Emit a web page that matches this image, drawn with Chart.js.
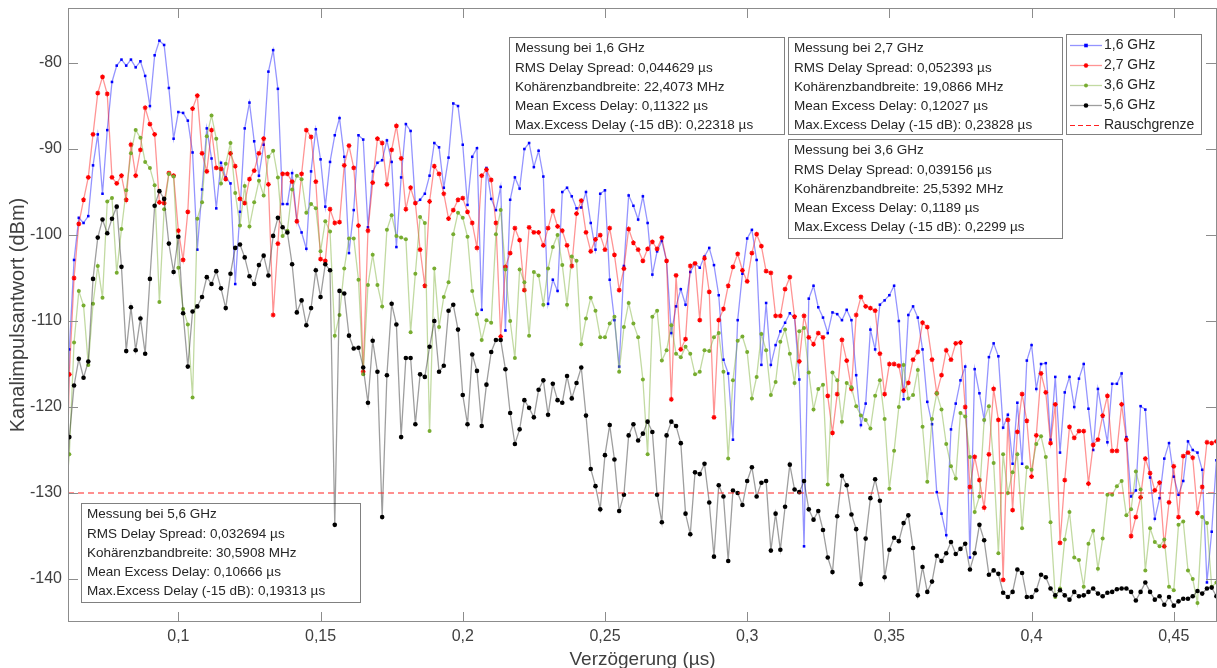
<!DOCTYPE html>
<html lang="de">
<head>
<meta charset="UTF-8">
<title>Kanalimpulsantwort</title>
<style>
  html, body { margin: 0; padding: 0; background: #fff; }
  canvas { display: block; }
</style>
</head>
<body>
<canvas id="impulseChart" width="1217" height="668"></canvas>

<script src="https://cdn.jsdelivr.net/npm/chart.js"></script>
<script>
// sample grid: 600 MHz sampling, first sample is n = 36 (0,06 µs)
const sampleRate = 600;
const firstSample = 36;

// Kanalimpulsantwort in dBm, one value per sample
const blue = [-140,
  -113.3, -102.9, -98.0, -98.6, -97.8, -91.9, -88.3, -95.2, -87.8, -82.2,
  -80.3, -79.6, -80.3, -79.6, -80.5, -79.8, -81.5, -85.0, -79.1, -77.4,
  -77.9, -82.9, -88.8, -85.7, -85.8, -86.7, -90.4, -101.7, -94.7, -87.6,
  -91.1, -96.9, -91.6, -93.3, -94.0, -105.7, -97.3, -87.6, -84.6, -89.1,
  -93.1, -89.5, -81.0, -78.5, -83.0, -96.4, -96.4, -92.8, -98.3, -99.7,
  -101.6, -92.6, -87.7, -91.2, -96.7, -91.5, -88.4, -86.4, -90.9, -102.1,
  -97.1, -88.4, -88.9, -99.1, -92.6, -91.6, -91.3, -89.0, -91.5, -101.4,
  -93.3, -87.1, -87.9, -96.3, -95.9, -95.2, -93.1, -89.3, -89.8, -94.5,
  -91.0, -84.7, -85.0, -89.5, -96.5, -90.9, -89.9, -108.7, -92.2, -95.8,
  -97.1, -94.4, -111.1, -95.9, -93.3, -94.6, -90.0, -89.3, -92.1, -90.2,
  -93.2, -108.0, -105.2, -106.5, -95.0, -94.5, -95.5, -96.9, -96.8, -95.0,
  -98.6, -101.7, -95.2, -94.8, -105.2, -109.9, -115.3, -103.6, -95.4, -96.6,
  -98.2, -95.5, -98.6, -104.6, -101.9, -100.7, -103.0, -111.4, -108.3, -106.3,
  -108.1, -104.3, -103.3, -103.8, -102.5, -101.5, -103.5, -107.0, -114.5, -116.1,
  -123.8, -109.9, -104.5, -100.4, -99.4, -102.9, -115.1, -107.9, -115.1, -112.8,
  -111.2, -110.2, -109.1, -109.6, -116.8, -136.2, -107.4, -105.9, -108.4, -109.6,
  -111.4, -109.0, -109.2, -109.9, -108.7, -109.9, -116.3, -122.1, -119.6, -111.0,
  -113.3, -108.1, -107.6, -107.0, -105.9, -110.0, -119.1, -109.3, -108.3, -109.6,
  -113.3, -119.4, -122.0, -129.9, -132.4, -134.9, -122.6, -119.6, -116.9, -115.3,
  -137.5, -115.6, -118.4, -121.5, -114.2, -112.6, -114.1, -122.4, -120.9, -126.6,
  -119.5, -126.6, -114.6, -112.8, -117.9, -115.0, -114.9, -123.8, -116.5, -125.3,
  -118.3, -116.5, -120.0, -116.7, -115.0, -120.2, -125.0, -117.9, -121.1, -124.1,
  -117.3, -117.3, -116.1, -123.5, -130.4, -129.7, -119.9, -120.3, -128.2, -133.0,
  -130.6, -126.0, -124.2, -128.1, -130.2, -128.6, -124.0, -125.0, -125.3, -127.3,
  -140.4, -134.5, -126.2];

const red = [-140,
  -116.2, -105.0, -98.7, -95.9, -93.3, -88.3, -83.5, -81.6, -83.6, -93.3,
  -94.0, -93.1, -95.9, -89.5, -93.1, -90.1, -85.2, -87.1, -88.3, -96.2,
  -96.3, -92.8, -93.1, -99.5, -102.9, -97.3, -85.3, -83.8, -90.5, -92.6,
  -87.8, -92.2, -92.3, -93.5, -90.5, -92.0, -95.8, -96.3, -93.5, -92.5,
  -90.5, -88.8, -94.1, -109.3, -101.0, -92.9, -92.9, -93.8, -98.4, -92.9,
  -87.8, -88.6, -93.8, -102.8, -103.0, -97.0, -98.6, -98.5, -91.9, -89.6,
  -92.2, -98.9, -115.9, -99.5, -93.9, -88.8, -89.3, -94.1, -90.1, -87.3,
  -91.1, -97.0, -94.5, -96.3, -101.7, -105.9, -96.1, -92.0, -92.9, -95.2,
  -98.1, -97.1, -95.9, -95.7, -97.3, -98.6, -101.5, -93.1, -92.4, -93.6,
  -98.6, -111.8, -103.7, -102.1, -99.2, -100.6, -106.4, -99.1, -99.7, -99.7,
  -101.2, -99.2, -97.2, -99.0, -99.5, -101.2, -103.6, -97.5, -96.0, -99.7,
  -101.9, -100.5, -100.0, -101.7, -99.2, -102.3, -106.4, -103.9, -99.3, -100.9,
  -101.7, -103.0, -101.6, -100.8, -101.6, -100.3, -103.0, -119.1, -104.7, -113.3,
  -112.1, -103.6, -103.3, -109.9, -102.7, -106.6, -121.2, -109.9, -108.6, -105.9,
  -103.7, -102.2, -104.1, -105.4, -102.1, -99.9, -101.3, -104.2, -104.4, -109.4,
  -109.4, -106.3, -104.9, -109.5, -114.7, -109.4, -111.9, -112.7, -111.4, -111.9,
  -118.7, -123.0, -118.5, -112.2, -114.6, -117.9, -109.3, -107.2, -108.3, -108.5,
  -108.8, -113.8, -118.5, -115.0, -115.0, -115.2, -118.1, -117.2, -114.5, -113.6,
  -110.2, -110.7, -114.5, -118.4, -116.3, -113.4, -114.5, -112.6, -112.5, -120.0,
  -129.3, -125.8, -128.5, -131.7, -125.5, -117.9, -121.5, -140.1, -121.5, -132.0,
  -122.9, -118.5, -121.6, -128.1, -123.3, -116.1, -118.3, -124.2, -119.7, -135.8,
  -128.5, -122.3, -123.6, -122.8, -122.8, -128.9, -124.4, -123.8, -121.0, -118.7,
  -125.1, -125.1, -119.7, -123.8, -135.0, -132.8, -130.5, -126.0, -127.7, -129.7,
  -128.8, -136.2, -131.1, -126.9, -132.8, -125.7, -125.3, -125.9, -132.3, -129.3,
  -124.1, -124.2, -124.0];

const green = [-132,
  -125.5, -112.5, -106.5, -108.2, -115.1, -108.0, -103.6, -107.3, -96.1, -95.7,
  -104.4, -99.3, -94.8, -90.5, -87.8, -88.7, -91.5, -92.2, -94.2, -107.8,
  -97.0, -92.9, -93.2, -103.8, -108.6, -110.4, -118.9, -98.1, -96.2, -88.5,
  -86.1, -88.8, -94.0, -91.7, -89.3, -95.1, -98.9, -94.3, -99.0, -96.2,
  -93.7, -95.4, -90.9, -90.2, -93.3, -100.1, -99.5, -94.7, -93.1, -93.5,
  -97.4, -96.4, -96.9, -101.9, -98.4, -99.6, -111.7, -109.3, -103.9, -100.4,
  -100.4, -105.2, -116.2, -105.8, -102.3, -105.8, -108.3, -99.4, -97.7, -100.1,
  -100.3, -100.5, -111.3, -104.5, -97.9, -98.6, -122.8, -103.9, -110.7, -107.2,
  -105.5, -99.9, -97.4, -98.0, -100.2, -106.5, -109.2, -112.2, -109.9, -110.2,
  -99.9, -97.1, -104.0, -110.0, -114.3, -104.0, -105.5, -111.7, -104.3, -104.7,
  -108.1, -103.9, -101.4, -100.0, -103.5, -108.1, -102.5, -103.0, -112.7, -109.7,
  -107.3, -108.8, -111.9, -111.9, -110.3, -109.5, -115.9, -110.7, -107.9, -110.3,
  -111.9, -116.8, -125.5, -109.5, -108.8, -114.6, -113.4, -110.5, -113.8, -114.2,
  -113.0, -113.8, -116.2, -115.9, -113.4, -113.5, -111.9, -111.4, -115.9, -126.0,
  -116.9, -112.3, -111.8, -113.6, -119.0, -116.5, -111.5, -113.4, -118.6, -117.1,
  -112.4, -111.0, -113.8, -117.2, -111.2, -110.8, -116.0, -120.3, -117.9, -117.4,
  -129.0, -116.0, -116.9, -121.7, -117.2, -117.7, -119.9, -121.0, -121.5, -122.5,
  -118.7, -116.9, -121.4, -129.5, -125.1, -120.0, -115.1, -119.0, -118.6, -115.7,
  -122.3, -128.7, -121.4, -118.4, -120.3, -124.3, -126.9, -128.3, -120.7, -121.1,
  -125.8, -132.2, -130.4, -121.5, -119.9, -126.5, -137.0, -125.5, -130.0, -127.6,
  -125.5, -134.1, -127.0, -127.3, -124.3, -123.4, -125.8, -133.4, -142.1, -141.1,
  -135.4, -132.2, -137.5, -137.8, -140.9, -135.9, -134.4, -138.8, -135.3, -130.2,
  -130.2, -129.2, -128.6, -132.6, -131.9, -127.5, -129.6, -139.0, -134.1, -135.7,
  -136.2, -135.4, -140.9, -141.3, -133.7, -133.3, -139.0, -140.0, -142.8, -132.8,
  -133.5, -140.9, -140.4];

const black = [-135,
  -123.5, -117.5, -114.4, -116.6, -114.7, -105.1, -100.3, -98.2, -99.8, -98.1,
  -96.7, -103.7, -113.5, -108.4, -113.4, -109.7, -113.8, -105.1, -96.6, -94.9,
  -95.8, -101.0, -104.3, -100.2, -109.1, -115.3, -108.9, -108.3, -107.2, -104.9,
  -105.7, -104.2, -106.2, -108.5, -104.5, -101.5, -101.1, -102.6, -104.8, -105.7,
  -103.5, -102.4, -104.7, -100.1, -98.0, -99.1, -99.7, -103.4, -109.0, -107.6,
  -110.5, -108.5, -104.1, -107.2, -103.4, -104.1, -133.7, -106.5, -106.8, -111.7,
  -113.2, -113.1, -115.4, -119.5, -112.3, -115.9, -132.8, -116.3, -108.0, -110.4,
  -123.5, -114.3, -114.3, -122.0, -116.2, -116.5, -113.0, -110.0, -115.9, -115.2,
  -108.8, -108.1, -111.0, -118.6, -122.0, -113.9, -115.8, -122.2, -117.4, -113.6,
  -112.2, -112.2, -115.6, -120.7, -124.3, -122.6, -119.2, -120.1, -121.2, -118.0,
  -116.9, -120.9, -117.3, -119.2, -119.5, -116.4, -119.0, -117.2, -115.4, -121.0,
  -127.2, -129.2, -131.9, -125.6, -122.1, -126.1, -132.1, -130.2, -123.3, -122.0,
  -123.9, -123.1, -121.7, -122.9, -130.2, -133.4, -123.3, -121.7, -122.2, -124.2,
  -132.4, -134.8, -127.6, -127.8, -126.6, -131.1, -137.4, -129.1, -130.4, -137.9,
  -129.7, -130.0, -131.4, -128.6, -127.0, -130.4, -128.8, -128.6, -136.7, -132.4,
  -136.6, -131.6, -126.7, -129.6, -129.9, -128.6, -131.9, -133.1, -132.1, -134.3,
  -137.5, -139.2, -132.7, -128.0, -129.1, -132.5, -134.2, -140.6, -135.3, -130.6,
  -128.4, -130.9, -139.8, -136.6, -135.2, -135.6, -133.5, -132.6, -136.4, -141.9,
  -138.6, -141.5, -140.3, -137.3, -137.9, -137.0, -135.7, -137.1, -136.5, -135.9,
  -138.9, -137.0, -133.7, -135.5, -139.5, -139.0, -139.4, -141.6, -142.1, -141.5,
  -138.9, -139.3, -142.1, -142.1, -141.3, -139.5, -139.8, -141.1, -141.9, -141.3,
  -141.9, -142.4, -141.5, -142.0, -141.9, -141.5, -141.1, -141.7, -142.0, -141.6,
  -141.5, -141.2, -141.1, -141.1, -141.5, -142.5, -141.5, -140.4, -141.5, -142.4,
  -142.0, -143.0, -142.1, -143.1, -142.6, -142.3, -142.3, -142.0, -141.4, -141.7,
  -141.1, -141.0, -142.0];

const seriesNames = ['1,6 GHz', '2,7 GHz', '3,6 GHz', '5,6 GHz'];
const noiseName = 'Rauschgrenze';
const noiseFloor = -130;

const xRange = [0.0612, 0.4652];
const yRange = [-145, -73.6];
const xTicks = [0.1, 0.15, 0.2, 0.25, 0.3, 0.35, 0.4, 0.45];
const xTickLabels = ['0,1', '0,15', '0,2', '0,25', '0,3', '0,35', '0,4', '0,45'];
const yTicks = [-140, -130, -120, -110, -100, -90, -80];
const yTickLabels = ['-140', '-130', '-120', '-110', '-100', '-90', '-80'];

const infoText = [
  ['Messung bei 1,6 GHz', 'RMS Delay Spread: 0,044629 µs', 'Kohärenzbandbreite: 22,4073 MHz',
   'Mean Excess Delay: 0,11322 µs', 'Max.Excess Delay (-15 dB): 0,22318 µs'],
  ['Messung bei 2,7 GHz', 'RMS Delay Spread: 0,052393 µs', 'Kohärenzbandbreite: 19,0866 MHz',
   'Mean Excess Delay: 0,12027 µs', 'Max.Excess Delay (-15 dB): 0,23828 µs'],
  ['Messung bei 3,6 GHz', 'RMS Delay Spread: 0,039156 µs', 'Kohärenzbandbreite: 25,5392 MHz',
   'Mean Excess Delay: 0,1189 µs', 'Max.Excess Delay (-15 dB): 0,2299 µs'],
  ['Messung bei 5,6 GHz', 'RMS Delay Spread: 0,032694 µs', 'Kohärenzbandbreite: 30,5908 MHz',
   'Mean Excess Delay: 0,10666 µs', 'Max.Excess Delay (-15 dB): 0,19313 µs']
];

const delays = blue.map((_, k) => (firstSample + k) / sampleRate);
const toPoints = arr => arr.map((v, k) => ({ x: delays[k], y: v }));

const font = "'Liberation Sans', Arial, Helvetica, sans-serif";
const axisGray = '#8c8c8c';
const labelColor = '#404040';

const styles = [
  { line: 'rgba(0,0,255,0.42)', mark: '#0000ff', shape: 'rect', r: 1.8 },
  { line: 'rgba(255,0,0,0.42)', mark: '#ff0000', shape: 'star', r: 2.4 },
  { line: 'rgba(119,172,48,0.45)', mark: '#77ac30', shape: 'circle', r: 2 },
  { line: 'rgba(0,0,0,0.38)', mark: '#000000', shape: 'circle', r: 2.3 }
];
const noiseColor = '#ff2020';

function markerAt(ctx, shape, x, y, r, color) {
  ctx.fillStyle = color;
  ctx.strokeStyle = color;
  if (shape === 'rect') {
    ctx.fillRect(x - r, y - r, 2 * r, 2 * r);
  } else if (shape === 'star') {
    ctx.lineWidth = 1.2;
    ctx.beginPath();
    for (let a = 0; a < 4; a++) {
      const ang = a * Math.PI / 4;
      ctx.moveTo(x - r * Math.cos(ang), y - r * Math.sin(ang));
      ctx.lineTo(x + r * Math.cos(ang), y + r * Math.sin(ang));
    }
    ctx.stroke();
  } else {
    ctx.beginPath();
    ctx.arc(x, y, r, 0, Math.PI * 2);
    ctx.fill();
  }
}

const overlay = {
  id: 'overlay',
  beforeDatasetsDraw(chart) {
    // info boxes sit under the curves
    const ctx = chart.ctx;
    const boxes = [[509, 37, 275, 97], [788, 37, 274, 97], [788, 139, 274, 99], [81, 503, 279, 99]];
    ctx.save();
    ctx.font = '13.5px ' + font;
    ctx.textBaseline = 'middle';
    boxes.forEach((b, n) => {
      ctx.fillStyle = '#ffffff';
      ctx.fillRect(b[0], b[1], b[2], b[3]);
      ctx.strokeStyle = '#808080';
      ctx.lineWidth = 1;
      ctx.strokeRect(b[0] + 0.5, b[1] + 0.5, b[2], b[3]);
      ctx.fillStyle = '#262626';
      infoText[n].forEach((t, j) => ctx.fillText(t, b[0] + 6, b[1] + 11.5 + j * 19.3));
    });
    ctx.restore();
  },
  afterDatasetsDraw(chart) {
    const { ctx, chartArea: a, scales } = chart;
    ctx.save();
    // axes box
    ctx.strokeStyle = axisGray;
    ctx.lineWidth = 1;
    ctx.strokeRect(a.left + 0.5, a.top + 0.5, a.right - a.left - 1, a.bottom - a.top - 1);
    // inward tick marks on all four sides
    ctx.beginPath();
    xTicks.forEach(v => {
      const px = Math.round(scales.x.getPixelForValue(v)) + 0.5;
      ctx.moveTo(px, a.bottom); ctx.lineTo(px, a.bottom - 10);
      ctx.moveTo(px, a.top); ctx.lineTo(px, a.top + 10);
    });
    yTicks.forEach(v => {
      const py = Math.round(scales.y.getPixelForValue(v)) + 0.5;
      ctx.moveTo(a.left, py); ctx.lineTo(a.left + 10, py);
      ctx.moveTo(a.right, py); ctx.lineTo(a.right - 11, py);
    });
    ctx.stroke();

    // legend
    const lx = 1066, ly = 34, lw = 135, lh = 100;
    ctx.fillStyle = '#ffffff';
    ctx.fillRect(lx, ly, lw, lh);
    ctx.strokeStyle = '#808080';
    ctx.strokeRect(lx + 0.5, ly + 0.5, lw, lh);
    ctx.font = '14px ' + font;
    ctx.textBaseline = 'middle';
    const names = seriesNames.concat([noiseName]);
    names.forEach((name, n) => {
      const y = ly + 11.5 + n * 20;
      ctx.lineWidth = 1.3;
      if (n < 4) {
        ctx.strokeStyle = styles[n].line;
        ctx.setLineDash([]);
      } else {
        ctx.strokeStyle = noiseColor;
        ctx.lineWidth = 1;
        ctx.setLineDash([5, 3]);
      }
      ctx.beginPath();
      ctx.moveTo(lx + 4, y); ctx.lineTo(lx + 36, y);
      ctx.stroke();
      ctx.setLineDash([]);
      if (n < 4) markerAt(ctx, styles[n].shape, lx + 20, y, styles[n].r, styles[n].mark);
      ctx.fillStyle = '#262626';
      ctx.fillText(name, lx + 38, y);
    });
    ctx.restore();
  }
};

const seriesData = [blue, red, green, black];
const datasets = seriesData.map((arr, n) => ({
  label: seriesNames[n],
  data: toPoints(arr),
  borderColor: styles[n].line,
  borderWidth: 1.3,
  pointStyle: styles[n].shape,
  pointRadius: styles[n].r,
  pointHoverRadius: styles[n].r,
  pointBackgroundColor: styles[n].mark,
  pointBorderColor: styles[n].mark,
  pointBorderWidth: n === 1 ? 1.2 : 0,
  tension: 0,
  order: 4 - n
}));
datasets.push({
  label: noiseName,
  data: [{ x: xRange[0], y: noiseFloor }, { x: xRange[1], y: noiseFloor }],
  borderColor: noiseColor,
  borderWidth: 1,
  borderDash: [6, 4],
  pointRadius: 0,
  pointHoverRadius: 0,
  order: 0
});

new Chart(document.getElementById('impulseChart'), {
  type: 'line',
  data: { datasets },
  options: {
    responsive: false,
    devicePixelRatio: 1,
    animation: false,
    events: [],
    layout: { autoPadding: false, padding: { top: 8, right: 0, left: 0, bottom: 0 } },
    plugins: { legend: { display: false }, tooltip: { enabled: false } },
    scales: {
      x: {
        type: 'linear',
        min: xRange[0],
        max: xRange[1],
        grid: { display: false, drawTicks: false },
        border: { display: false },
        afterBuildTicks: s => { s.ticks = xTicks.map(v => ({ value: v })); },
        afterFit: s => { s.height = 46; s.paddingLeft = 0; s.paddingRight = 0; },
        ticks: {
          autoSkip: false,
          maxRotation: 0,
          padding: 5,
          color: labelColor,
          font: { family: font, size: 16 },
          callback: v => xTickLabels[xTicks.indexOf(v)]
        },
        title: {
          display: true,
          text: 'Verzögerung (µs)',
          color: labelColor,
          font: { family: font, size: 19, lineHeight: 1 },
          padding: { top: 0, bottom: -1 }
        }
      },
      y: {
        type: 'linear',
        min: yRange[0],
        max: yRange[1],
        grid: { display: false, drawTicks: false },
        border: { display: false },
        afterBuildTicks: s => { s.ticks = yTicks.map(v => ({ value: v })); },
        afterFit: s => { s.width = 68; s.paddingTop = 0; s.paddingBottom = 0; },
        ticks: {
          autoSkip: false,
          padding: 6,
          color: labelColor,
          font: { family: font, size: 16 },
          callback: v => yTickLabels[yTicks.indexOf(v)]
        },
        title: {
          display: true,
          text: 'Kanalimpulsantwort (dBm)',
          color: labelColor,
          font: { family: font, size: 20, lineHeight: 1 },
          padding: { top: 8, bottom: 0 }
        }
      }
    }
  },
  plugins: [overlay]
});
</script>
</body>
</html>
